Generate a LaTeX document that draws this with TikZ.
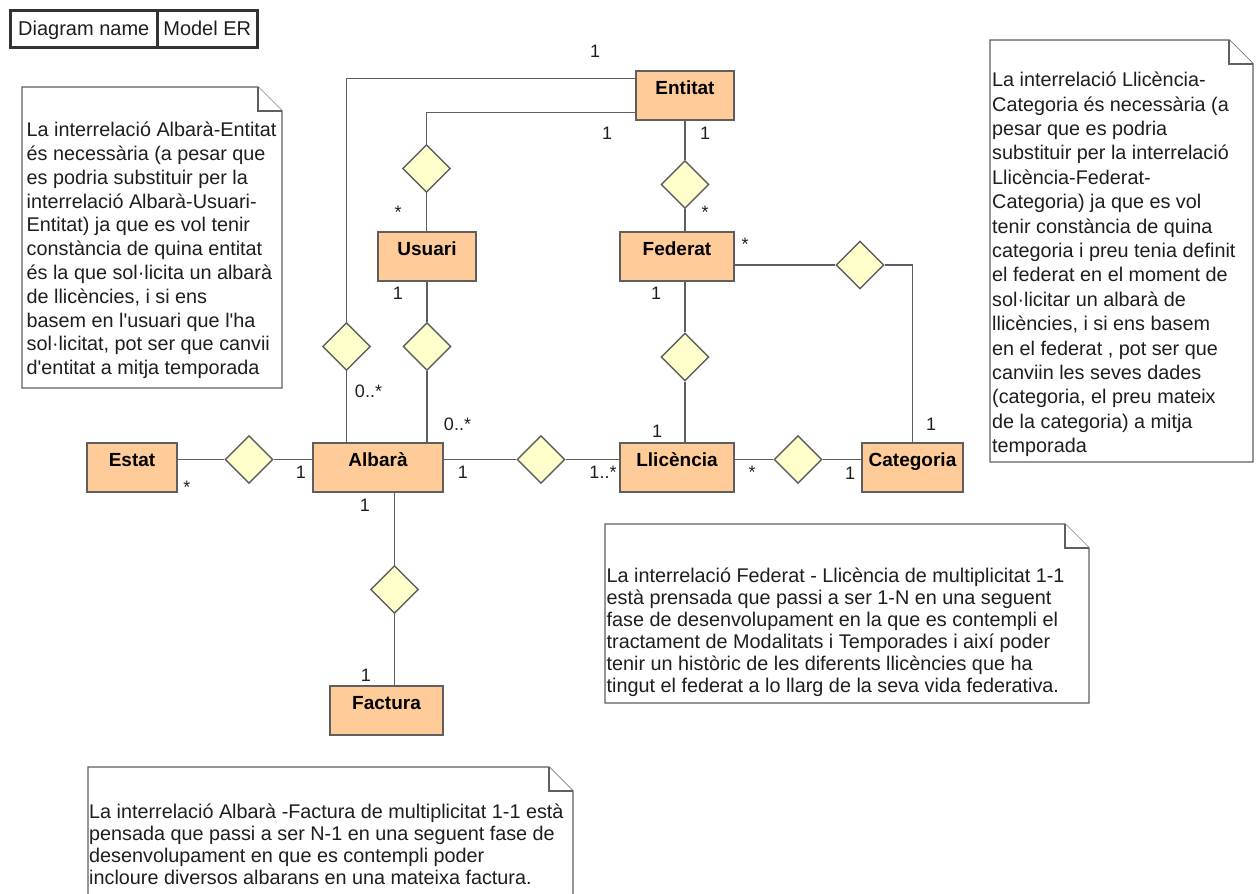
\documentclass[tikz,border=0pt]{standalone}
\usepackage{fontspec}
\setmainfont{Liberation Sans}[Ligatures=TeXOff]
\usetikzlibrary{shapes.geometric}
\definecolor{entfill}{RGB}{255,204,153}
\definecolor{relfill}{RGB}{255,255,204}
\definecolor{edge}{RGB}{95,95,95}
\definecolor{ink}{RGB}{30,30,30}
\begin{document}
\begin{tikzpicture}[x=1pt,y=-1pt,
  entity/.style={draw=edge, fill=entfill, line width=1.4pt, inner xsep=0pt, inner ysep=0pt,
    text height=23.5pt, text depth=25.5pt, minimum height=49pt,
    font=\fontsize{19}{22}\selectfont\bfseries, text=black},
  rel/.style={diamond, draw=edge, fill=relfill, line width=1.4pt, inner sep=0pt,
    minimum width=48pt, minimum height=48pt},
  conn/.style={draw=edge, line width=1.4pt},
  mult/.style={font=\fontsize{18}{20}\selectfont, text=ink, inner sep=0pt, anchor=base},
  notebox/.style={draw=edge, fill=white, line width=1.4pt, line join=miter},
  notetext/.style={font=\fontsize{19.8}{#1}\selectfont, text=ink, align=left, inner sep=0pt, anchor=north west},
  hdr/.style={draw=black!80, line width=3pt, inner sep=0pt, minimum height=37pt,
    text height=14.3pt, text depth=0pt, font=\fontsize{20}{22}\selectfont, text=ink, anchor=north west}
]
\useasboundingbox (0,0) rectangle (1259,894);
\clip (0,0) rectangle (1259,894);

% header
\node[hdr, minimum width=147.5pt] (dname) at (8.5,8.5) {Diagram name};
\node[hdr, minimum width=99.5pt] (mname) at (156,8.5) {Model ER};

% notes: outline with folded corner
\newcommand{\notepath}[5]{% x1,y1,x2,y2,fold
  \draw[notebox] (#1,#2) -- ({#3-#5},#2) -- (#3,{#2+#5}) -- (#3,#4) -- (#1,#4) -- cycle;
  \draw[notebox] ({#3-#5},#2) -- ({#3-#5},{#2+#5}) -- (#3,{#2+#5});}
\notepath{22}{87}{282}{388}{24}
\notepath{990}{40}{1253}{462}{24}
\notepath{605}{524}{1089}{703}{24}
\notepath{88}{767}{573}{910}{24}

% note texts (first line starts 18pt above its baseline)
\node[notetext=23.8] (note1) at (26.5,118.5) {\rule{0pt}{18pt}La interrelació Albarà-Entitat\\
és necessària (a pesar que\\
es podria substituir per la\\
interrelació Albarà-Usuari-\\
Entitat) ja que es vol tenir\\
constància de quina entitat\\
és la que sol·licita un albarà\\
de llicències, i si ens\\
basem en l'usuari que l'ha\\
sol·licitat, pot ser que canvii\\
d'entitat a mitja temporada};

\node[notetext=24.4] (note2) at (992,68.5) {\rule{0pt}{18pt}La interrelació Llicència-\\
Categoria és necessària (a\\
pesar que es podria\\
substituir per la interrelació\\
Llicència-Federat-\\
Categoria) ja que es vol\\
tenir constància de quina\\
categoria i preu tenia definit\\
el federat en el moment de\\
sol·licitar un albarà de\\
llicències, i si ens basem\\
en el federat , pot ser que\\
canviin les seves dades\\
(categoria, el preu mateix\\
de la categoria) a mitja\\
temporada};

\node[notetext=22] (note3) at (606.5,564) {\rule{0pt}{18pt}La interrelació Federat - Llicència de multiplicitat 1-1\\
està prensada que passi a ser 1-N en una seguent\\
fase de desenvolupament en la que es contempli el\\
tractament de Modalitats i Temporades i així poder\\
tenir un històric de les diferents llicències que ha\\
tingut el federat a lo llarg de la seva vida federativa.};

\node[notetext=22] (note4) at (89,800) {\rule{0pt}{18pt}La interrelació Albarà -Factura de multiplicitat 1-1 està\\
pensada que passi a ser N-1 en una seguent fase de\\
desenvolupament en que es contempli poder\\
incloure diversos albarans en una mateixa factura.};

% relationship diamonds
\node[rel] (dae) at (346.5,346.5) {};
\node[rel] (due) at (426.5,168.5) {};
\node[rel] (def) at (685,184.5) {};
\node[rel] (dua) at (427,346.5) {};
\node[rel] (dfl) at (685,357) {};
\node[rel] (dfc) at (860,265) {};
\node[rel] (dea) at (249,459.5) {};
\node[rel] (dal) at (541,459.5) {};
\node[rel] (dlc) at (798,459.5) {};
\node[rel] (daf) at (394.5,589.5) {};

% entities
\node[entity, minimum width=98pt]  (entitat)   at (685,95.5)   {Entitat};
\node[entity, minimum width=98pt]  (usuari)    at (427,256.5)  {Usuari};
\node[entity, minimum width=114pt] (federat)   at (677,256.5)  {Federat};
\node[entity, minimum width=90pt]  (estat)     at (132,467.5)  {Estat};
\node[entity, minimum width=130pt] (albara)    at (378,467.5)  {Albarà};
\node[entity, minimum width=114pt] (llicencia) at (677,467.5)  {Llicència};
\node[entity, minimum width=101pt] (categoria) at (912.5,467.5) {Categoria};
\node[entity, minimum width=113pt] (factura)   at (386.5,710.5) {Factura};

% connectors
\draw[conn] ([yshift=-8pt]entitat.north west) -| (dae) -- (albara.north -| dae);
\draw[conn] ([yshift=8pt]entitat.south west) -| (due) -- (usuari.north -| due);
\draw[conn] (entitat.south -| def) -- (def) -- (federat.north -| def);
\draw[conn] (usuari.south -| dua) -- (dua) -- (albara.north -| dua);
\draw[conn] (federat.south -| dfl) -- (dfl) -- (llicencia.north -| dfl);
\draw[conn] ([yshift=-8.5pt]federat.east) -- (dfc) -| (categoria.north);
\draw[conn] (estat.east |- dea) -- (dea) -- (albara.west |- dea);
\draw[conn] (albara.east |- dal) -- (dal) -- (llicencia.west |- dal);
\draw[conn] (llicencia.east |- dlc) -- (dlc) -- (categoria.west |- dlc);
\draw[conn] (albara.south -| daf) -- (daf) -- (factura.north -| daf);

% multiplicities
\node[mult] (m1)  at (595,57)    {1};
\node[mult] (m2)  at (607,139)   {1};
\node[mult] (m3)  at (705,139)   {1};
\node[mult] (m4)  at (398,218)   {*};
\node[mult] (m5)  at (705,218)   {*};
\node[mult] (m6)  at (745,250)   {*};
\node[mult] (m7)  at (398,299)   {1};
\node[mult] (m8)  at (656,299)   {1};
\node[mult] (m9)  at (368.5,397) {0..*};
\node[mult] (m10) at (457.5,430) {0..*};
\node[mult] (m11) at (301,478)   {1};
\node[mult] (m12) at (187,493)   {*};
\node[mult] (m13) at (463,478)   {1};
\node[mult] (m14) at (365,511)   {1};
\node[mult] (m15) at (603,478)   {1..*};
\node[mult] (m16) at (657,437)   {1};
\node[mult] (m17) at (752,478)   {*};
\node[mult] (m18) at (850,479)   {1};
\node[mult] (m19) at (931,430)   {1};
\node[mult] (m20) at (366,681)   {1};
\end{tikzpicture}
\end{document}
